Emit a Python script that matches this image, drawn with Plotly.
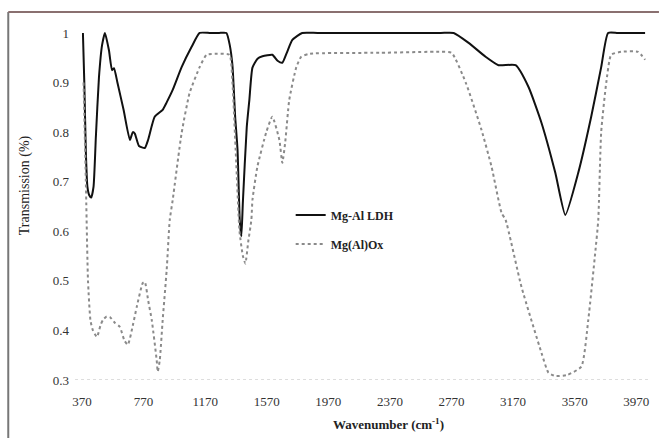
import plotly.graph_objects as go

# Mg-Al LDH (solid)
ldh_wn = [376, 385, 395, 405, 418, 430, 445, 460, 480, 500, 519, 545, 565, 578, 600, 640,
          681, 700, 713, 740, 778, 800, 842, 894, 920, 959, 1017, 1082, 1134, 1200, 1260,
          1308, 1330, 1347, 1365, 1380, 1395, 1405, 1415, 1440, 1457, 1477, 1510, 1542,
          1606, 1640, 1671, 1700, 1736, 1800, 1900, 2300, 2700, 2784, 2881, 2991, 3075,
          3186, 3270, 3354, 3444, 3509, 3593, 3677, 3742, 3787, 3850, 4027]
ldh_t = [1.0, 0.9, 0.76, 0.69, 0.672, 0.668, 0.69, 0.79, 0.91, 0.975, 1.0, 0.965, 0.925,
         0.929, 0.9, 0.845, 0.784, 0.8, 0.797, 0.772, 0.768, 0.785, 0.831, 0.845, 0.86,
         0.885, 0.931, 0.972, 1.0, 1.0, 1.0, 1.0, 0.975, 0.935, 0.83, 0.765, 0.62, 0.59,
         0.66, 0.81, 0.865, 0.93, 0.948, 0.953, 0.956, 0.944, 0.94, 0.96, 0.986, 1.0, 1.0,
         1.0, 1.0, 1.0, 0.98, 0.952, 0.935, 0.935, 0.891, 0.819, 0.718, 0.633, 0.718,
         0.831, 0.931, 1.0, 1.0, 1.0]

# Mg(Al)Ox (dotted)
ox_wn = [380, 395, 409, 425, 441, 467, 490, 506, 530, 551, 585, 616, 645, 668, 700, 726,
         765, 778, 800, 823, 855, 862, 875, 894, 920, 940, 959, 1017, 1069, 1134, 1179,
         1250, 1328, 1347, 1370, 1393, 1415, 1431, 1450, 1470, 1477, 1509, 1567, 1606,
         1652, 1671, 1690, 1716, 1762, 1794, 1850, 2300, 2700, 2771, 2862, 2965, 3030,
         3095, 3121, 3224, 3354, 3399, 3444, 3520, 3613, 3658, 3703, 3723, 3742, 3775,
         3807, 3872, 3982, 4027]
ox_t = [0.9, 0.7, 0.5, 0.42, 0.40, 0.387, 0.41, 0.421, 0.428, 0.427, 0.415, 0.407, 0.38,
        0.371, 0.41, 0.448, 0.496, 0.498, 0.46, 0.421, 0.34, 0.317, 0.34, 0.421, 0.522,
        0.623, 0.663, 0.798, 0.879, 0.931, 0.956, 0.958, 0.956, 0.9, 0.75, 0.6, 0.55,
        0.535, 0.58, 0.623, 0.663, 0.73, 0.8, 0.831, 0.784, 0.738, 0.78, 0.865, 0.931,
        0.952, 0.958, 0.96, 0.962, 0.96, 0.9, 0.804, 0.73, 0.637, 0.623, 0.488, 0.355,
        0.315, 0.308, 0.31, 0.327, 0.421, 0.556, 0.623, 0.8, 0.9, 0.956, 0.962, 0.962,
        0.946]

x_ticks = [370, 770, 1170, 1570, 1970, 2370, 2770, 3170, 3570, 3970]
y_ticks = [0.3, 0.4, 0.5, 0.6, 0.7, 0.8, 0.9, 1.0]
y_tick_text = ["0.3", "0.4", "0.5", "0.6", "0.7", "0.8", "0.9", "1"]

serif = "Liberation Serif"

fig = go.Figure()
fig.add_trace(go.Scatter(x=ldh_wn, y=ldh_t, mode="lines", name="<b>Mg-Al LDH</b>",
                         legendgroup="a",
                         line=dict(color="#111111", width=2, shape="spline", smoothing=0.5)))
fig.add_trace(go.Scatter(x=ox_wn, y=ox_t, mode="lines", name="<b>Mg(Al)Ox</b>",
                         legendgroup="b",
                         line=dict(color="#8a8a8a", width=2, dash="dot", shape="spline",
                                   smoothing=0.5)))

fig.update_layout(
    width=661, height=438,
    margin=dict(l=82, r=13, t=28, b=58),
    paper_bgcolor="white", plot_bgcolor="white",
    showlegend=True,
    legend=dict(x=0.37, y=0.51, xanchor="left", yanchor="top",
                bgcolor="rgba(0,0,0,0)", font=dict(family=serif, size=12, color="#222"),
                tracegroupgap=10, itemwidth=30),
    xaxis=dict(range=[370, 4033], tickvals=x_ticks, showgrid=False, zeroline=False,
               showline=False, ticks="", ticklabelstandoff=12,
               tickfont=dict(family=serif, size=13, color="#333")),
    yaxis=dict(range=[0.3, 1.01], tickvals=y_ticks, ticktext=y_tick_text, showgrid=False,
               zeroline=False, showline=False, ticks="", ticklabelstandoff=12,
               tickfont=dict(family=serif, size=13, color="#333")),
    annotations=[
        dict(text="Transmission (%)", xref="paper", yref="paper",
             x=(25 - 82) / 566, y=(380 - 185) / 352, textangle=-90, showarrow=False,
             xanchor="center", yanchor="middle",
             font=dict(family=serif, size=14, color="#222")),
        dict(text="<b>Wavenumber (cm<sup>-1</sup>)</b>", xref="paper", yref="paper",
             x=(390 - 82) / 566, y=(380 - 424) / 352, showarrow=False,
             xanchor="center", yanchor="middle",
             font=dict(family=serif, size=13, color="#222")),
    ],
    shapes=[
        dict(type="line", xref="paper", yref="paper", x0=(8 - 82) / 566, x1=(8 - 82) / 566,
             y0=(380 - 12) / 352, y1=(380 - 438) / 352, line=dict(color="#777", width=2)),
        dict(type="line", xref="paper", yref="paper", x0=(8 - 82) / 566, x1=(661 - 82) / 566,
             y0=(380 - 12) / 352, y1=(380 - 12) / 352, line=dict(color="#8a7070", width=2)),
        dict(type="line", xref="paper", yref="y", x0=(75 - 82) / 566, x1=(650 - 82) / 566,
             y0=0.3, y1=0.3, line=dict(color="#bbbbbb", width=1, dash="dot")),
    ],
)

fig.write_html("out.html")
